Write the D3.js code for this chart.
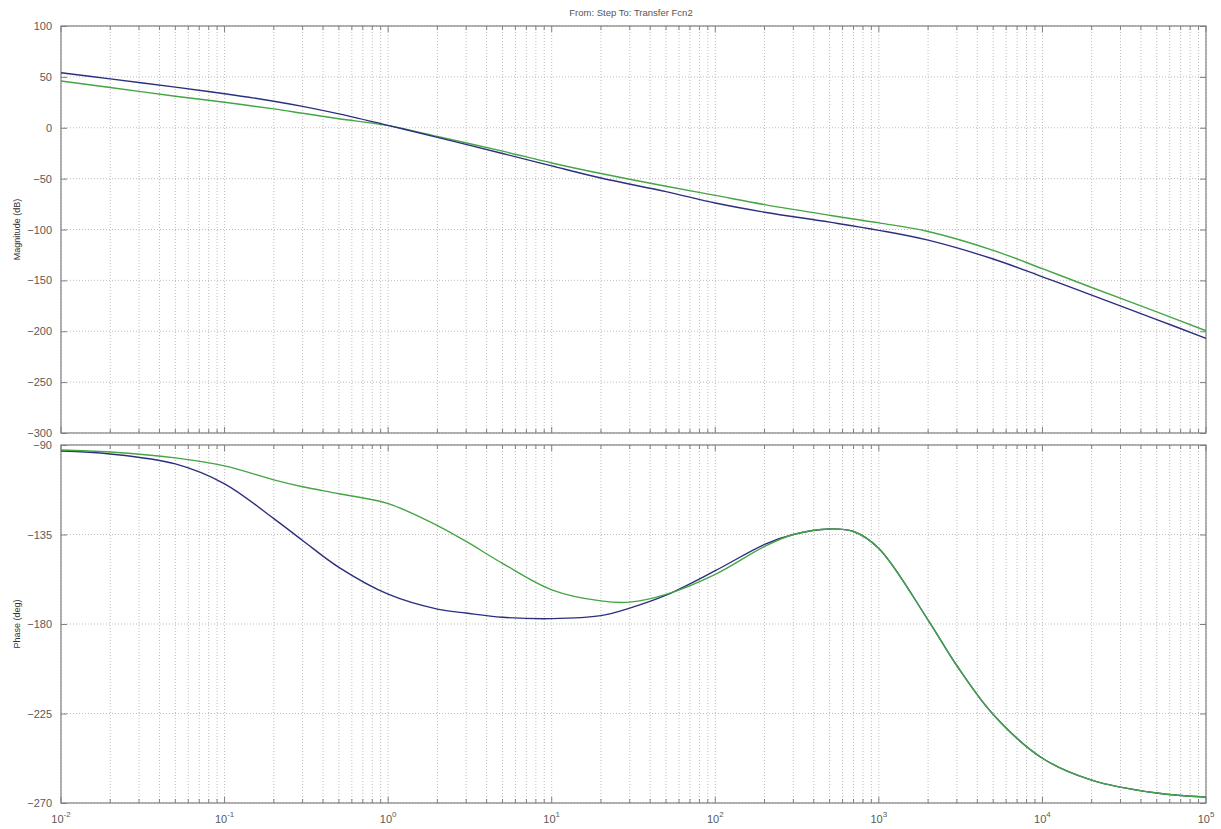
<!DOCTYPE html>
<html><head><meta charset="utf-8">
<script src="https://cdn.jsdelivr.net/npm/d3@7"></script>
<style>
body{margin:0;background:#fff;}
svg{display:block;font-family:"Liberation Sans",Arial,sans-serif;}
</style></head>
<body><svg id="c" width="1221" height="829"></svg>
<script>
const title = "From: Step  To: Transfer Fcn2";
const magLabel = "Magnitude (dB)";
const phaseLabel = "Phase (deg)";
const magTicks = [100, 50, 0, -50, -100, -150, -200, -250, -300];
const phaseTicks = [-90, -135, -180, -225, -270];
const decadeExps = [-2, -1, 0, 1, 2, 3, 4, 5];

const magFreq = [0.01, 0.02, 0.05, 0.1, 0.2, 0.3, 0.5, 1, 2, 5, 10, 20, 50, 100, 200, 500, 1000, 2000, 5000, 10000, 20000, 50000, 100000];
const magBlue = [54, 48, 39.9, 33.4, 26.1, 21, 13.6, 2.3, -9.5, -25.3, -37.5, -49.4, -62.8, -74, -83, -92.8, -100.8, -110.5, -129, -146.5, -164.5, -188.5, -207];
const magGreen = [46, 39.6, 31, 25, 18.5, 14.2, 8.8, 2.1, -8.5, -23, -34.6, -45, -57.5, -66.5, -75.5, -86, -93.5, -102, -120.5, -138.5, -157, -181, -199.5];

const phFreq = [0.01, 0.02, 0.05, 0.1, 0.2, 0.3, 0.5, 1, 2, 3, 5, 10, 20, 30, 50, 100, 200, 300, 500, 700, 1000, 2000, 3000, 5000, 10000, 20000, 50000, 100000];
const phBlue = [-93, -94.5, -99.5, -109.5, -127, -138, -151.5, -165, -172.5, -174.5, -176.6, -177.3, -175.8, -172, -165.5, -153.2, -140, -135, -132.2, -133.5, -142, -178, -201, -225.5, -247.5, -258.5, -265, -267];
const phGreen = [-92.5, -93.5, -96.5, -100.5, -107.5, -111, -114.5, -119.5, -130.5, -138.5, -149.5, -162.8, -168.4, -169, -165.1, -155, -141, -135, -132.2, -133.5, -142, -178, -201, -225.5, -247.5, -258.5, -265, -267];

const svg = d3.select("#c");
const L = 61, R = 1206;
const x = d3.scaleLog().domain([1e-2, 1e5]).range([L, R]);
const yM = d3.scaleLinear().domain([-300, 100]).range([433, 26]);
const yP = d3.scaleLinear().domain([-270, -90]).range([803, 445]);

const gridCol = "#bdbdbd", axisCol = "#808080", textCol = "#5a5a5a";

const minorVals = [];
for (let e = -2; e < 5; e++) for (let k = 2; k <= 9; k++) minorVals.push(k * Math.pow(10, e));
const majorVals = decadeExps.map(e => Math.pow(10, e));

function panel(y, ticks, fmt) {
  const [yb, yt] = y.range();
  const g = svg.append("g");
  g.selectAll(".vm").data(minorVals).join("line")
    .attr("x1", d => x(d)).attr("x2", d => x(d)).attr("y1", yt).attr("y2", yb)
    .attr("stroke", gridCol).attr("stroke-width", 1).attr("stroke-dasharray", "1,2");
  g.selectAll(".vM").data(majorVals).join("line")
    .attr("x1", d => x(d)).attr("x2", d => x(d)).attr("y1", yt).attr("y2", yb)
    .attr("stroke", gridCol).attr("stroke-width", 1).attr("stroke-dasharray", "1,2");
  g.selectAll(".h").data(ticks).join("line")
    .attr("x1", L).attr("x2", R).attr("y1", d => y(d)).attr("y2", d => y(d))
    .attr("stroke", gridCol).attr("stroke-width", 1).attr("stroke-dasharray", "1,2");
  g.append("rect").attr("x", L).attr("y", yt).attr("width", R - L).attr("height", yb - yt)
    .attr("fill", "none").attr("stroke", axisCol).attr("stroke-width", 1.2);
  const ya = d3.axisLeft(y).tickValues(ticks).tickSize(-6).tickPadding(9).tickFormat(fmt);
  const yg = g.append("g").attr("transform", `translate(${L},0)`).call(ya);
  yg.select(".domain").remove();
  yg.selectAll("line").attr("stroke", axisCol);
  yg.selectAll("text").attr("fill", textCol).style("font-size", "11px");
  const yr = d3.axisRight(y).tickValues(ticks).tickSize(-6).tickFormat("");
  const yrg = g.append("g").attr("transform", `translate(${R},0)`).call(yr);
  yrg.select(".domain").remove();
  yrg.selectAll("line").attr("stroke", axisCol);
  [[yb, -1], [yt, 1]].forEach(([yy, dir]) => {
    g.selectAll(null).data(majorVals).join("line")
      .attr("x1", d => x(d)).attr("x2", d => x(d)).attr("y1", yy).attr("y2", yy + dir * 6)
      .attr("stroke", axisCol);
    g.selectAll(null).data(minorVals).join("line")
      .attr("x1", d => x(d)).attr("x2", d => x(d)).attr("y1", yy).attr("y2", yy + dir * 4)
      .attr("stroke", axisCol);
  });
  return g;
}

const gM = panel(yM, magTicks, d3.format("d"));
const gP = panel(yP, phaseTicks, d3.format("d"));

const smooth = d3.curveCatmullRom.alpha(0.5);
const lineM = (vals) => d3.line().x((d, i) => x(magFreq[i])).y(d => yM(d)).curve(smooth)(vals);
const lineP = (vals) => d3.line().x((d, i) => x(phFreq[i])).y(d => yP(d)).curve(smooth)(vals);

gM.append("path").attr("d", lineM(magGreen)).attr("fill", "none").attr("stroke", "#45a545").attr("stroke-width", 1.4);
gM.append("path").attr("d", lineM(magBlue)).attr("fill", "none").attr("stroke", "#2c2f7e").attr("stroke-width", 1.4);
gP.append("path").attr("d", lineP(phBlue)).attr("fill", "none").attr("stroke", "#2c2f7e").attr("stroke-width", 1.4);
gP.append("path").attr("d", lineP(phGreen)).attr("fill", "none").attr("stroke", "#45a545").attr("stroke-width", 1.4);

const xl = svg.append("g");
decadeExps.forEach(e => {
  const t = xl.append("text").attr("x", x(Math.pow(10, e))).attr("y", 823)
    .attr("text-anchor", "middle").attr("fill", textCol).style("font-size", "11px");
  t.append("tspan").text("10");
  t.append("tspan").attr("dy", -6).style("font-size", "8px").text(String(e));
});

svg.append("text").attr("x", 631).attr("y", 16).attr("text-anchor", "middle")
  .attr("fill", "#555").style("font-size", "9.5px").text(title);
svg.append("text").attr("transform", `translate(20,${(yM(100)+yM(-300))/2}) rotate(-90)`)
  .attr("text-anchor", "middle").attr("fill", "#333").style("font-size", "9px").text(magLabel);
svg.append("text").attr("transform", `translate(20,${(yP(-90)+yP(-270))/2}) rotate(-90)`)
  .attr("text-anchor", "middle").attr("fill", "#333").style("font-size", "9px").text(phaseLabel);
</script></body></html>
